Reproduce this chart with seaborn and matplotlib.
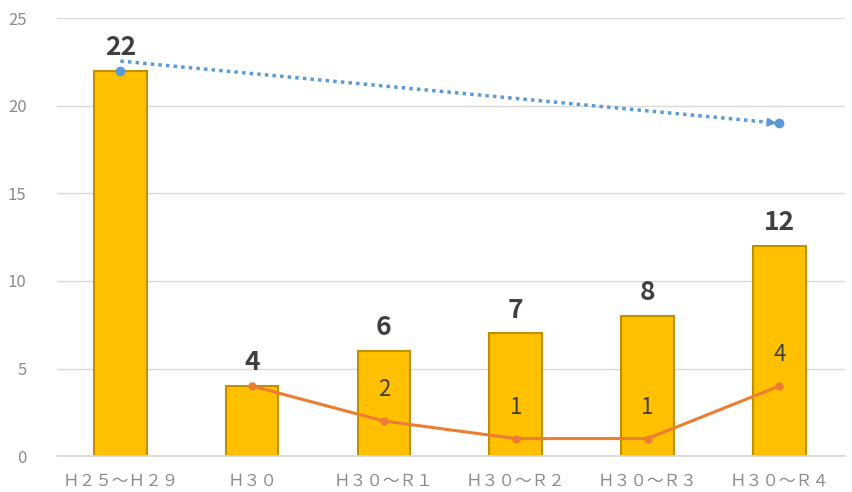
import matplotlib
matplotlib.use('Agg')
import numpy as np
import pandas as pd
import matplotlib.pyplot as plt
import seaborn as sns

sns.set_theme(style='white')
plt.rcParams['font.family'] = ['Noto Sans CJK JP', 'DejaVu Sans']

# ── Data ────────────────────────────────────────────────────────────────────
categories = ['Ｈ２５～Ｈ２９', 'Ｈ３０', 'Ｈ３０～Ｒ１', 'Ｈ３０～Ｒ２', 'Ｈ３０～Ｒ３', 'Ｈ３０～Ｒ４']
bar_values = [22, 4, 6, 7, 8, 12]
line_cats = ['Ｈ３０', 'Ｈ３０～Ｒ１', 'Ｈ３０～Ｒ２', 'Ｈ３０～Ｒ３', 'Ｈ３０～Ｒ４']
line_values = [4, 2, 1, 1, 4]
trend_cats = ['Ｈ２５～Ｈ２９', 'Ｈ３０～Ｒ４']
trend_points = [22, 19]
trend_line = [22.55, 19]

BAR_COLOR = '#FFC000'
BAR_EDGE = '#BF9000'
ORANGE = '#ED7D31'
BLUE = '#5B9BD5'
TEXT = '#404040'
GREY = '#8C8C8C'

df = pd.DataFrame({'category': categories, 'value': bar_values})
pos = {c: i for i, c in enumerate(categories)}

fig = plt.figure(figsize=(8.52, 4.92), dpi=100)
ax = fig.add_axes([0.067, 0.073, 0.925, 0.89])

sns.barplot(data=df, x='category', y='value', order=categories, ax=ax,
            color=BAR_COLOR, width=0.4, edgecolor=BAR_EDGE, linewidth=1.5,
            saturation=1, zorder=2)

for i, v in enumerate(bar_values):
    ax.annotate(f'{v}', (i, v), xytext=(0, 7), textcoords='offset points',
                ha='center', va='bottom', fontsize=19, fontweight='bold', color=TEXT)

# orange line (first point shares its label with the bar, so it is not repeated)
lx = [pos[c] for c in line_cats]
ax.plot(lx, line_values, color=ORANGE, lw=2.2, marker='o', ms=5, zorder=3)
for x, v in list(zip(lx, line_values))[1:]:
    ax.text(x, v + 1.8, f'{v}', ha='center', va='center', fontsize=16, color=TEXT, zorder=4)

# blue dotted trend
tx = [pos[c] for c in trend_cats]
ax.plot(tx, trend_line, color=BLUE, lw=2.5, ls=(0, (1, 1.2)), zorder=3)
ax.annotate('', xy=(tx[1], trend_line[1]), xytext=(tx[1] - 0.08, trend_line[1] + 0.056),
            arrowprops=dict(arrowstyle='-|>', color=BLUE, lw=1.5, mutation_scale=12),
            zorder=4)
ax.plot(tx, trend_points, ls='none', marker='o', ms=6, color=BLUE, zorder=5)

ax.set_xlim(-0.48, 5.5)
ax.set_ylim(0, 25)
ax.set_yticks(np.arange(0, 26, 5))
ax.yaxis.grid(True, color='#D9D9D9', lw=1)
ax.set_axisbelow(True)
ax.set_xlabel('')
ax.set_ylabel('')
for s in ['top', 'right', 'left']:
    ax.spines[s].set_visible(False)
ax.spines['bottom'].set_color('#D9D9D9')
ax.tick_params(axis='y', colors=GREY, labelsize=12, length=0, pad=22)
ax.tick_params(axis='x', colors=GREY, labelsize=12, length=0, pad=12)

plt.savefig('out.png', dpi=100)
plt.close()
